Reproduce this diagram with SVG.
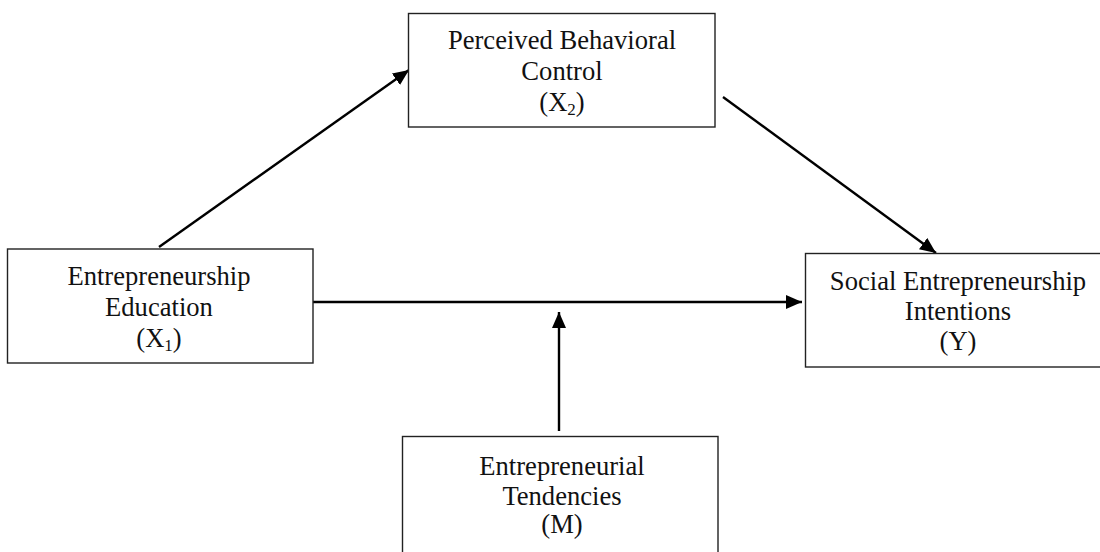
<svg xmlns="http://www.w3.org/2000/svg" width="1100" height="552" viewBox="0 0 1100 552">
<style>
.box{fill:#fff;stroke:#222;stroke-width:1.4}
.t{font-family:"Liberation Serif","Times New Roman",serif;font-size:26.6px;fill:#111;text-anchor:middle}
.sub{font-size:17px}
.c{stroke:#000;stroke-width:2.4;fill:none;marker-end:url(#ah)}
</style>
<defs>
<marker id="ah" viewBox="0 0 16 14" refX="16" refY="7" markerWidth="16" markerHeight="14" markerUnits="userSpaceOnUse" orient="auto">
<path d="M0,0 L16,7 L0,14 Z" fill="#000"/>
</marker>
</defs>
<rect width="1100" height="552" fill="#fff"/>
<g id="connectors">
<line class="c" x1="159" y1="247" x2="409" y2="70"/>
<line class="c" x1="723" y1="97" x2="936" y2="253"/>
<line class="c" x1="313" y1="302" x2="802" y2="302"/>
<line class="c" x1="559" y1="431" x2="559" y2="312"/>
</g>
<g id="node-x2">
<rect class="box" x="408.5" y="13.5" width="306.5" height="113.5"/>
<text class="t" x="562" y="49">Perceived Behavioral</text>
<text class="t" x="562" y="80">Control</text>
<text class="t" x="562" y="111">(X<tspan class="sub" dy="4">2</tspan><tspan dy="-4">)</tspan></text>
</g>
<g id="node-x1">
<rect class="box" x="7.5" y="249" width="305.5" height="114"/>
<text class="t" x="159" y="285">Entrepreneurship</text>
<text class="t" x="159" y="316">Education</text>
<text class="t" x="159" y="347">(X<tspan class="sub" dy="4">1</tspan><tspan dy="-4">)</tspan></text>
</g>
<g id="node-y">
<rect class="box" x="805.5" y="253.5" width="310" height="113.5"/>
<text class="t" x="958" y="290">Social Entrepreneurship</text>
<text class="t" x="958" y="320">Intentions</text>
<text class="t" x="958" y="350">(Y)</text>
</g>
<g id="node-m">
<rect class="box" x="402.5" y="436.5" width="315.5" height="130"/>
<text class="t" x="562" y="475">Entrepreneurial</text>
<text class="t" x="562" y="505">Tendencies</text>
<text class="t" x="562" y="533">(M)</text>
</g>
</svg>
